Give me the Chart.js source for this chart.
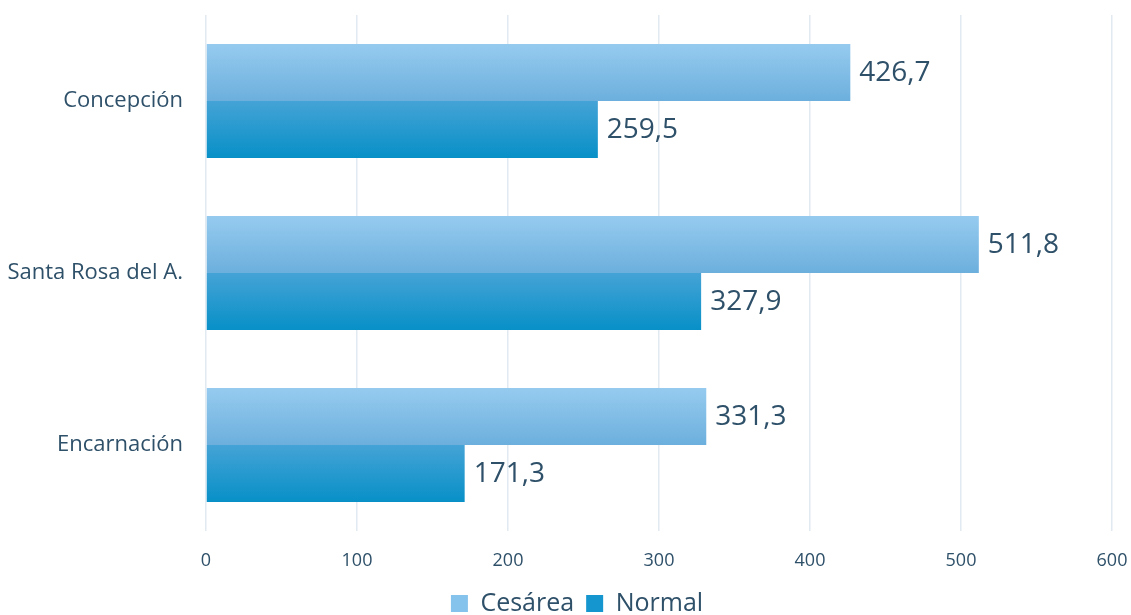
<!DOCTYPE html>
<html>
<head>
<meta charset="utf-8">
<script src="https://cdn.jsdelivr.net/npm/chart.js@4/dist/chart.umd.min.js"></script>
<style>
  html, body { margin: 0; padding: 0; background: #fff; }
  #wrap { width: 1131px; height: 615px; }
</style>
</head>
<body>
<div id="wrap"><canvas id="barChart"></canvas></div>
<script>
const categories = ['Concepción', 'Santa Rosa del A.', 'Encarnación'];
const cesarea = [426.7, 511.8, 331.3];
const normal = [259.5, 327.9, 171.3];
const xTicks = [0, 100, 200, 300, 400, 500, 600];

const textColor = '#2e5069';
const fontFamily = '"Open Sans", "Noto Sans", sans-serif';

// gradient fill per bar, light on top, darker at the bottom
const barGradient = {
    id: 'barGradient',
    beforeDatasetsDraw(chart) {
        const ctx = chart.ctx;
        const stops = [
            ['#96cbef', '#6cafdd'],
            ['#45a3d6', '#0790c7']
        ];
        chart.data.datasets.forEach((ds, i) => {
            chart.getDatasetMeta(i).data.forEach(bar => {
                const top = bar.y - bar.height / 2;
                const g = ctx.createLinearGradient(0, top, 0, top + bar.height);
                g.addColorStop(0, stops[i][0]);
                g.addColorStop(1, stops[i][1]);
                bar.options = Object.assign({}, bar.options, { backgroundColor: g });
            });
        });
    }
};

// legend sits a bit right of centre in the original
const legendShift = {
    id: 'legendShift',
    afterLayout(chart) {
        chart.legend.left += 21;
        chart.legend.right += 21;
    }
};

const valueLabels = {
    id: 'valueLabels',
    afterDatasetsDraw(chart) {
        const ctx = chart.ctx;
        ctx.save();
        ctx.font = '28px ' + fontFamily;
        ctx.fillStyle = textColor;
        ctx.textAlign = 'left';
        ctx.textBaseline = 'middle';
        chart.data.datasets.forEach((ds, i) => {
            chart.getDatasetMeta(i).data.forEach((bar, j) => {
                const txt = ds.data[j].toFixed(1).replace('.', ',');
                ctx.fillText(txt, bar.x + 9, bar.y + 1);
            });
        });
        ctx.restore();
    }
};

new Chart(document.getElementById('barChart').getContext('2d'), {
    type: 'bar',
    data: {
        labels: categories,
        datasets: [
            { label: 'Cesárea', data: cesarea, backgroundColor: '#8cc6ec' },
            { label: 'Normal', data: normal, backgroundColor: '#1b98cf' }
        ]
    },
    options: {
        indexAxis: 'y',
        responsive: true,
        maintainAspectRatio: false,
        animation: false,
        categoryPercentage: 0.663,
        barPercentage: 1,
        layout: { padding: { top: 15, right: 19, left: 0, bottom: -11 } },
        scales: {
            x: {
                min: 0,
                max: 600,
                afterBuildTicks: axis => { axis.ticks = xTicks.map(v => ({ value: v })); },
                afterFit: axis => { axis.paddingLeft = 0; axis.paddingRight = 0; axis.height = 48; },
                grid: { color: '#e2eaf1', lineWidth: 1.5, drawTicks: false },
                border: { display: false },
                ticks: {
                    color: textColor,
                    padding: 19,
                    font: { family: fontFamily, size: 18 }
                }
            },
            y: {
                grid: { display: false },
                border: { display: false },
                afterFit: axis => { axis.width = 206; axis.paddingTop = 0; axis.paddingBottom = 0; },
                ticks: {
                    color: textColor,
                    padding: 15,
                    font: { family: fontFamily, size: 22 }
                }
            }
        },
        plugins: {
            legend: {
                position: 'bottom',
                labels: {
                    color: textColor,
                    boxWidth: 17,
                    boxHeight: 17,
                    padding: 12,
                    font: { family: fontFamily, size: 25 },
                    generateLabels: chart => chart.data.datasets.map((ds, i) => ({
                        text: ds.label,
                        fillStyle: i === 0 ? '#86c3ec' : '#1596cf',
                        strokeStyle: 'rgba(0,0,0,0)',
                        lineWidth: 0,
                        datasetIndex: i,
                        fontColor: textColor
                    }))
                }
            },
            tooltip: { enabled: false }
        }
    },
    plugins: [barGradient, valueLabels, legendShift]
});
</script>
</body>
</html>
